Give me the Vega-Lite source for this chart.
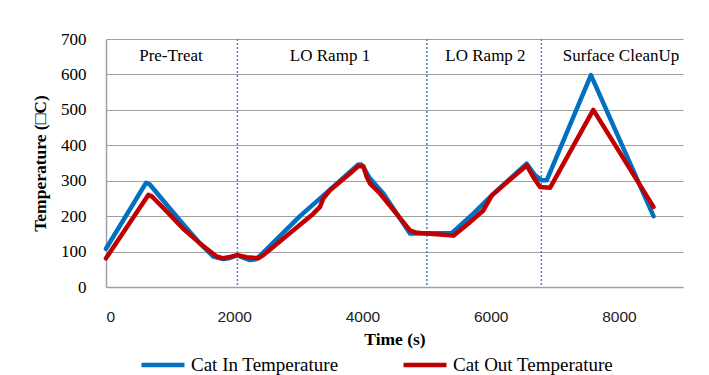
{
  "$schema": "https://vega.github.io/schema/vega-lite/v6.json",
  "width": 577,
  "height": 248,
  "autosize": {"type": "none"},
  "padding": {"left": 106, "top": 39, "right": 26, "bottom": 88},
  "background": "white",
  "config": {
    "view": {"stroke": null},
    "font": "Liberation Serif",
    "axisX": {
      "grid": false,
      "ticks": false,
      "tickSize": 0,
      "labelOverlap": false,
      "domainColor": "#A0A0A0",
      "domainWidth": 1.5,
      "labelFont": "Liberation Sans",
      "labelFontSize": 15.5,
      "labelColor": "#222222",
      "labelPadding": 22,
      "titleFont": "Liberation Serif",
      "titleFontSize": 17.5,
      "titleFontWeight": "bold",
      "titleColor": "#000000",
      "titlePadding": 6
    },
    "axisY": {
      "grid": true,
      "gridColor": "#A0A0A0",
      "gridWidth": 1.2,
      "ticks": false,
      "tickSize": 0,
      "labelOverlap": false,
      "domainColor": "#A0A0A0",
      "domainWidth": 1.5,
      "labelFont": "Liberation Serif",
      "labelFontSize": 17,
      "labelColor": "#000000",
      "labelPadding": 20,
      "titleFont": "Liberation Serif",
      "titleFontSize": 17.5,
      "titleFontWeight": "bold",
      "titleColor": "#000000",
      "titlePadding": 11
    }
  },
  "datasets": {
    "temps": [
      {"series": "Cat In Temperature", "time": 0, "temp": 108},
      {"series": "Cat In Temperature", "time": 624, "temp": 294},
      {"series": "Cat In Temperature", "time": 680, "temp": 290},
      {"series": "Cat In Temperature", "time": 947, "temp": 232},
      {"series": "Cat In Temperature", "time": 1200, "temp": 178},
      {"series": "Cat In Temperature", "time": 1466, "temp": 123},
      {"series": "Cat In Temperature", "time": 1674, "temp": 86},
      {"series": "Cat In Temperature", "time": 1830, "temp": 79},
      {"series": "Cat In Temperature", "time": 1934, "temp": 82},
      {"series": "Cat In Temperature", "time": 2050, "temp": 90},
      {"series": "Cat In Temperature", "time": 2150, "temp": 82},
      {"series": "Cat In Temperature", "time": 2246, "temp": 76},
      {"series": "Cat In Temperature", "time": 2330, "temp": 78},
      {"series": "Cat In Temperature", "time": 2402, "temp": 88},
      {"series": "Cat In Temperature", "time": 3026, "temp": 200},
      {"series": "Cat In Temperature", "time": 3494, "temp": 275},
      {"series": "Cat In Temperature", "time": 3936, "temp": 346},
      {"series": "Cat In Temperature", "time": 3980, "temp": 346},
      {"series": "Cat In Temperature", "time": 4014, "temp": 338},
      {"series": "Cat In Temperature", "time": 4118, "temp": 306},
      {"series": "Cat In Temperature", "time": 4326, "temp": 264},
      {"series": "Cat In Temperature", "time": 4742, "temp": 151},
      {"series": "Cat In Temperature", "time": 5054, "temp": 152},
      {"series": "Cat In Temperature", "time": 5392, "temp": 152},
      {"series": "Cat In Temperature", "time": 5730, "temp": 207},
      {"series": "Cat In Temperature", "time": 6042, "temp": 263},
      {"series": "Cat In Temperature", "time": 6562, "temp": 348},
      {"series": "Cat In Temperature", "time": 6692, "temp": 315},
      {"series": "Cat In Temperature", "time": 6796, "temp": 301},
      {"series": "Cat In Temperature", "time": 6874, "temp": 301},
      {"series": "Cat In Temperature", "time": 7564, "temp": 598},
      {"series": "Cat In Temperature", "time": 8540, "temp": 200},
      {"series": "Cat Out Temperature", "time": 0, "temp": 81},
      {"series": "Cat Out Temperature", "time": 660, "temp": 260},
      {"series": "Cat Out Temperature", "time": 720, "temp": 255},
      {"series": "Cat Out Temperature", "time": 947, "temp": 213},
      {"series": "Cat Out Temperature", "time": 1200, "temp": 165},
      {"series": "Cat Out Temperature", "time": 1466, "temp": 123},
      {"series": "Cat Out Temperature", "time": 1726, "temp": 86},
      {"series": "Cat Out Temperature", "time": 1830, "temp": 81},
      {"series": "Cat Out Temperature", "time": 1934, "temp": 85},
      {"series": "Cat Out Temperature", "time": 2050, "temp": 90},
      {"series": "Cat Out Temperature", "time": 2194, "temp": 84},
      {"series": "Cat Out Temperature", "time": 2376, "temp": 81},
      {"series": "Cat Out Temperature", "time": 2454, "temp": 90},
      {"series": "Cat Out Temperature", "time": 3234, "temp": 207},
      {"series": "Cat Out Temperature", "time": 3338, "temp": 226},
      {"series": "Cat Out Temperature", "time": 3390, "temp": 250},
      {"series": "Cat Out Temperature", "time": 3494, "temp": 273},
      {"series": "Cat Out Temperature", "time": 3806, "temp": 320},
      {"series": "Cat Out Temperature", "time": 3936, "temp": 341},
      {"series": "Cat Out Temperature", "time": 4014, "temp": 341},
      {"series": "Cat Out Temperature", "time": 4066, "temp": 311},
      {"series": "Cat Out Temperature", "time": 4118, "temp": 292},
      {"series": "Cat Out Temperature", "time": 4274, "temp": 264},
      {"series": "Cat Out Temperature", "time": 4742, "temp": 160},
      {"series": "Cat Out Temperature", "time": 4846, "temp": 153},
      {"series": "Cat Out Temperature", "time": 5210, "temp": 148},
      {"series": "Cat Out Temperature", "time": 5418, "temp": 145},
      {"series": "Cat Out Temperature", "time": 5678, "temp": 183},
      {"series": "Cat Out Temperature", "time": 5886, "temp": 216},
      {"series": "Cat Out Temperature", "time": 6016, "temp": 258},
      {"series": "Cat Out Temperature", "time": 6198, "temp": 287},
      {"series": "Cat Out Temperature", "time": 6562, "temp": 343},
      {"series": "Cat Out Temperature", "time": 6666, "temp": 310},
      {"series": "Cat Out Temperature", "time": 6770, "temp": 282},
      {"series": "Cat Out Temperature", "time": 6926, "temp": 280},
      {"series": "Cat Out Temperature", "time": 7601, "temp": 500},
      {"series": "Cat Out Temperature", "time": 8540, "temp": 226}
    ],
    "boundaries": [
      {"time": 2050},
      {"time": 5005},
      {"time": 6790}
    ],
    "phases": [
      {"label": "Pre-Treat", "time": 1014, "temp": 652},
      {"label": "LO Ramp 1", "time": 3494, "temp": 652},
      {"label": "LO Ramp 2", "time": 5919, "temp": 652},
      {"label": "Surface CleanUp", "time": 8033, "temp": 652}
    ]
  },
  "layer": [
    {
      "data": {"name": "boundaries"},
      "mark": {"type": "rule", "color": "#4F81BD", "strokeDash": [2, 2], "strokeWidth": 1.5},
      "encoding": {
        "x": {
          "field": "time",
          "type": "quantitative",
          "scale": {"domain": [0, 9000], "nice": false, "zero": false},
          "axis": {"title": "Time (s)", "values": [0, 2000, 4000, 6000, 8000], "format": "d"}
        }
      }
    },
    {
      "data": {"name": "temps"},
      "mark": {"type": "line", "strokeWidth": 4.5, "strokeJoin": "round", "strokeCap": "round"},
      "encoding": {
        "x": {
          "field": "time",
          "type": "quantitative",
          "scale": {"domain": [0, 9000], "nice": false, "zero": false},
          "axis": {"title": "Time (s)", "values": [0, 2000, 4000, 6000, 8000], "format": "d"}
        },
        "y": {
          "field": "temp",
          "type": "quantitative",
          "scale": {"domain": [0, 700], "nice": false},
          "axis": {"title": "Temperature (□C)", "values": [0, 100, 200, 300, 400, 500, 600, 700], "format": "d"}
        },
        "color": {
          "field": "series",
          "type": "nominal",
          "scale": {"domain": ["Cat In Temperature", "Cat Out Temperature"], "range": ["#0070C0", "#C00000"]},
          "legend": {
            "title": null,
            "orient": "none",
            "direction": "horizontal",
            "legendX": 33,
            "legendY": 302,
            "symbolType": "stroke",
            "symbolSize": 1849,
            "symbolStrokeWidth": 4.5,
            "labelFont": "Liberation Serif",
            "labelFontSize": 19,
            "labelColor": "#000000",
            "labelOffset": 4,
            "columnPadding": 55,
            "labelLimit": 300
          }
        }
      }
    },
    {
      "data": {"name": "phases"},
      "mark": {"type": "text", "font": "Liberation Serif", "fontSize": 17, "color": "#000000", "baseline": "middle", "align": "center"},
      "encoding": {
        "x": {
          "field": "time",
          "type": "quantitative",
          "scale": {"domain": [0, 9000], "nice": false, "zero": false},
          "axis": {"title": "Time (s)", "values": [0, 2000, 4000, 6000, 8000], "format": "d"}
        },
        "y": {
          "field": "temp",
          "type": "quantitative",
          "scale": {"domain": [0, 700], "nice": false},
          "axis": {"title": "Temperature (□C)", "values": [0, 100, 200, 300, 400, 500, 600, 700], "format": "d"}
        },
        "text": {"field": "label"}
      }
    }
  ]
}
